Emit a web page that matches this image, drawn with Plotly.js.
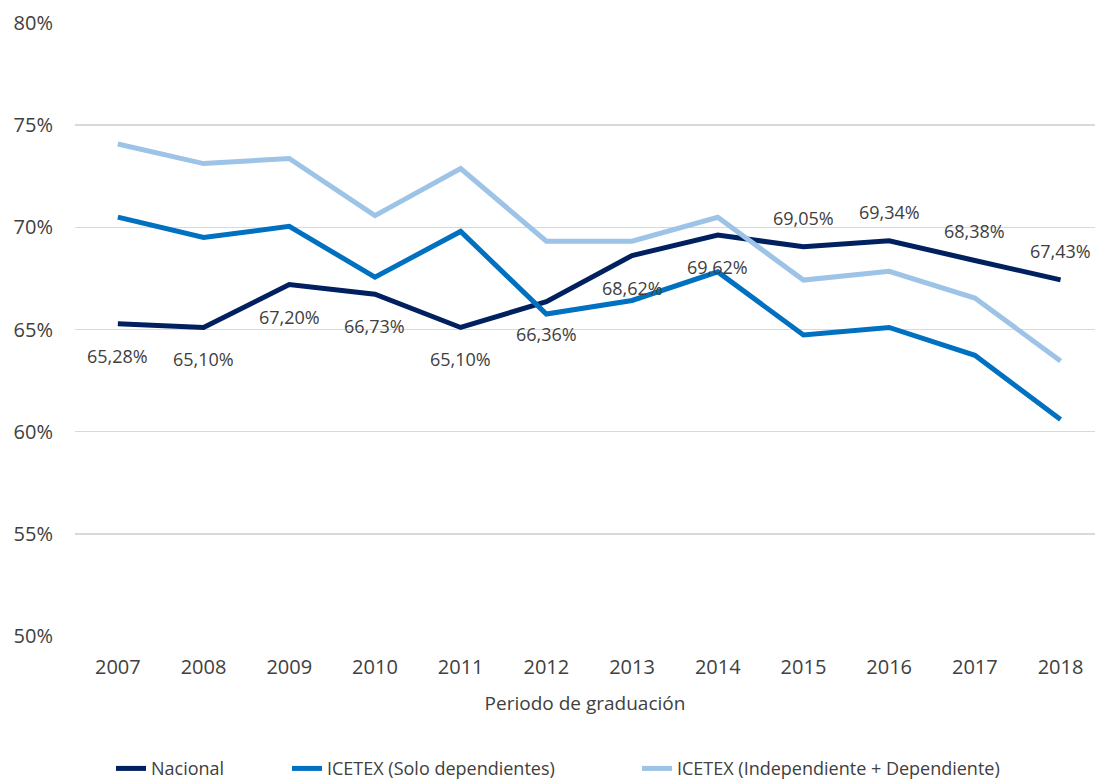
<!DOCTYPE html>
<html>
<head>
<meta charset="utf-8">
<script src="https://cdn.plot.ly/plotly-3.0.1.min.js"></script>
<style>html,body{margin:0;padding:0;background:#fff;}#chart{width:1095px;height:782px;}</style>
</head>
<body>
<div id="chart"></div>
<script>
const years = ['2007','2008','2009','2010','2011','2012','2013','2014','2015','2016','2017','2018'];
const nacional = [65.28, 65.10, 67.20, 66.73, 65.10, 66.36, 68.62, 69.62, 69.05, 69.34, 68.38, 67.43];
const icetexSolo = [70.50, 69.50, 70.05, 67.56, 69.80, 65.76, 66.42, 67.82, 64.73, 65.10, 63.74, 60.60];
const icetexInd = [74.08, 73.12, 73.37, 70.57, 72.88, 69.32, 69.32, 70.49, 67.42, 67.85, 66.54, 63.46];
const seriesNames = ['Nacional', 'ICETEX (Solo dependientes)', 'ICETEX (Independiente + Dependiente)'];
const yTicks = [50, 55, 60, 65, 70, 75, 80];

const colors = ['#002060', '#0070C0', '#9DC3E6'];
const txtColor = '#404040';
const font = 'Open Sans, sans-serif';
const legendIds = ['legend', 'legend2', 'legend3'];
const legendX = [111, 287, 637];

const traces = [nacional, icetexSolo, icetexInd].map((vals, k) => ({
  type: 'scatter',
  mode: 'lines',
  x: years,
  y: vals,
  name: seriesNames[k],
  legend: legendIds[k],
  line: {color: colors[k], width: 5},
  hoverinfo: 'skip'
}));

const fmt = v => v.toFixed(2).replace('.', ',') + '%';
const annotations = nacional.map((v, i) => ({
  x: i, y: v, xref: 'x', yref: 'y',
  text: fmt(v), showarrow: false,
  yshift: i < 8 ? -32 : 29,
  font: {family: font, size: 18, color: txtColor}
}));

const legendBase = k => ({
  orientation: 'h',
  xref: 'container', yref: 'container',
  x: legendX[k] / 1095, y: 0.017, xanchor: 'left', yanchor: 'middle',
  font: {family: font, size: 18, color: txtColor},
  bgcolor: 'rgba(0,0,0,0)'
});

const layout = {
  width: 1095, height: 782,
  margin: {l: 75, r: 0, t: 23, b: 146},
  paper_bgcolor: '#fff', plot_bgcolor: '#fff',
  font: {family: font, color: txtColor},
  showlegend: true,
  xaxis: {
    type: 'category',
    range: [-0.5, 11.402],
    showgrid: false, zeroline: false, showline: false,
    ticks: '',
    ticklabelstandoff: 17,
    tickfont: {family: font, size: 20, color: txtColor},
    title: {text: 'Periodo de graduación', font: {family: font, size: 19, color: txtColor}, standoff: 17},
    automargin: false
  },
  yaxis: {
    range: [50, 80],
    tickvals: yTicks,
    ticktext: yTicks.map(t => t + '%'),
    showgrid: true, gridcolor: '#d9d9d9', gridwidth: 1.5,
    zeroline: false, showline: false, ticks: '',
    ticklabelstandoff: 21,
    tickfont: {family: font, size: 20, color: txtColor},
    automargin: false
  },
  legend: legendBase(0),
  legend2: legendBase(1),
  legend3: legendBase(2),
  annotations: annotations
};

Plotly.newPlot('chart', traces, layout, {displayModeBar: false, staticPlot: true});
</script>
</body>
</html>
